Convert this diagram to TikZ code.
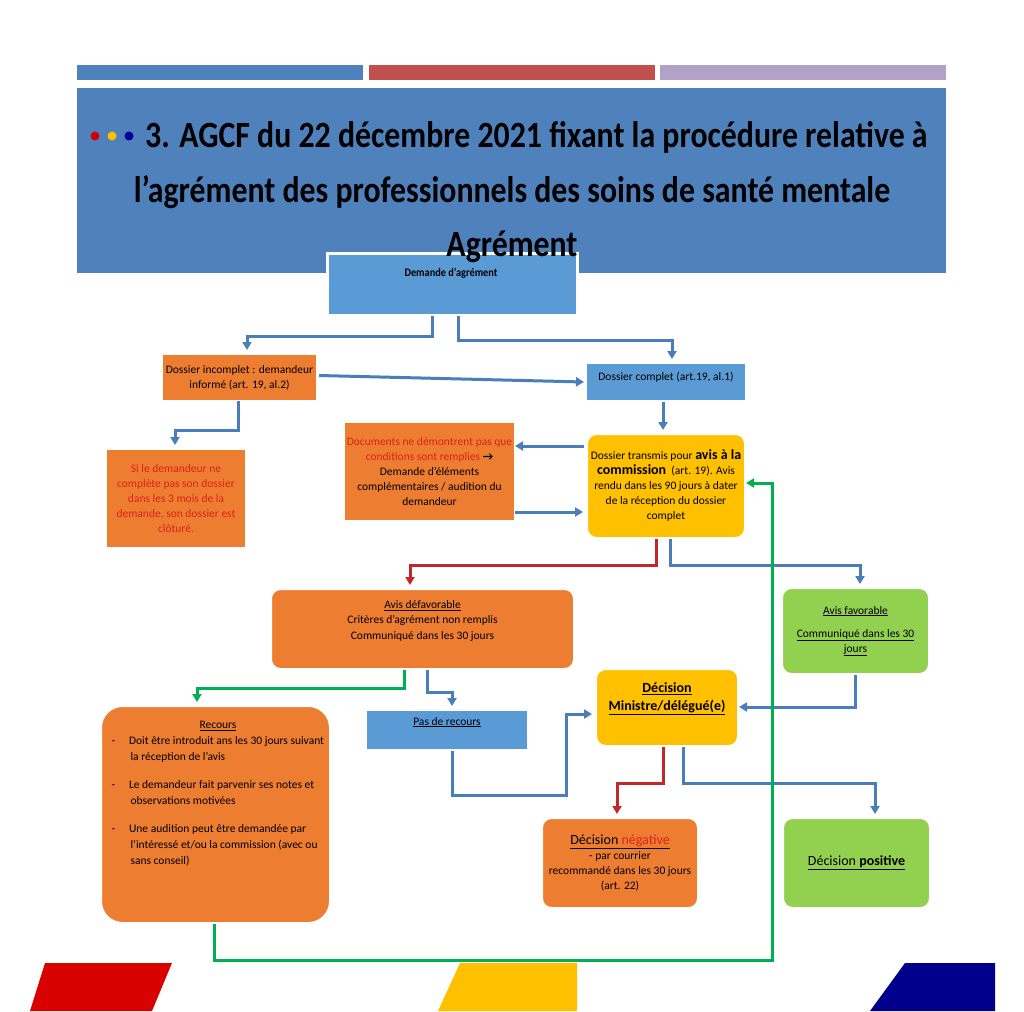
\documentclass[tikz,border=0pt]{standalone}
\usepackage{fontspec}
\setmainfont{Carlito}
\usetikzlibrary{arrows.meta}
\definecolor{hblue}{HTML}{4F81BD}
\definecolor{bblue}{HTML}{5B9BD5}
\definecolor{bor}{HTML}{ED7D31}
\definecolor{byel}{HTML}{FFC000}
\definecolor{bgreen}{HTML}{92D050}
\definecolor{lblue}{HTML}{4A7EBB}
\definecolor{lred}{HTML}{C0282D}
\definecolor{lgreen}{HTML}{00B050}
\definecolor{bred}{HTML}{C0504D}
\definecolor{blav}{HTML}{B3A2C7}
\definecolor{tred}{HTML}{E02020}
\begin{document}
\begin{tikzpicture}[x=1pt,y=-1pt,
 box/.style={draw=white,line width=3pt,inner sep=3pt,align=center,font=\fontsize{11.5}{15}\selectfont},
 rbox/.style={box,rounded corners=10pt},
 ttl/.style={font=\bfseries\fontsize{37}{40}\selectfont,inner sep=0},
 bl/.style={draw=lblue,line width=3pt,-{Triangle[length=8pt,width=9pt]}},
 rl/.style={bl,draw=lred},
 gl/.style={bl,draw=lgreen}]
\useasboundingbox (0,0) rectangle (1024,1011);
\fill[white] (0,0) rectangle (1024,1011);
% top bars
\fill[hblue] (77,65) rectangle (363,80);
\fill[bred] (369,65) rectangle (655,80);
\fill[blav] (660,65) rectangle (946,80);
\fill[hblue] (77,88) rectangle (946,273);
\fill[red!80!black] (95,136) circle (4.5);
\fill[byel] (112,136) circle (4.5);
\fill[blue!60!black] (129,136) circle (4.5);
\node[ttl,anchor=base west] (t1) at (145,148) {\scalebox{0.86}[1]{3. AGCF du 22 décembre 2021 fixant la procédure relative à}};
\node[ttl,anchor=base] (t2) at (512,202) {\scalebox{0.86}[1]{l’agrément des professionnels des soins de santé mentale}};
% bottom shapes
\fill[red!85!black] (45,963) -- (172,963) -- (152,1011) -- (30,1011) -- cycle;
\fill[byel] (460,963) -- (577,963) -- (577,1011) -- (438,1011) -- cycle;
\fill[blue!55!black] (905,963) -- (995,963) -- (995,1011) -- (870,1011) -- cycle;
% boxes
\node[box,fill=bblue,minimum width=250pt,minimum height=62pt,anchor=north west] (dem) at (326,252) {};
\node[ttl,anchor=base] (t3) at (512,256) {\scalebox{0.86}[1]{Agrément}};
\node[font=\bfseries\fontsize{11.5}{14}\selectfont,anchor=base] (demt) at (451,276) {\scalebox{0.9}[1]{Demande d’agrément}};
\node[box,fill=bor,minimum width=156pt,minimum height=48pt,anchor=north west] (inc) at (160,352) {Dossier incomplet : demandeur\\informé (art. 19, al.2)};
\node[box,fill=bblue,minimum width=161pt,minimum height=39pt,anchor=north west,text depth=12pt] (comp) at (584,361) {Dossier complet (art.19, al.1)};
\node[box,fill=bor,minimum width=141pt,minimum height=100pt,anchor=north west,text=tred] (si) at (104,447) {Si le demandeur ne\\complète pas son dossier\\dans les 3 mois de la\\demande, son dossier est\\clôturé.};
\node[box,fill=bor,minimum width=172pt,minimum height=100pt,anchor=north west] (doc) at (342,420) {\textcolor{tred}{Documents ne démontrent pas que}\\\textcolor{tred}{conditions sont remplies} \textbf{→}\\Demande d’éléments\\complémentaires / audition du\\demandeur};
\node[rbox,fill=byel,minimum width=159pt,minimum height=105pt,anchor=north west] (tr) at (585,432) {Dossier transmis pour {\fontsize{14}{14}\selectfont\bfseries avis à la}\\{\fontsize{14}{14}\selectfont\bfseries commission} ~(art. 19). Avis\\rendu dans les 90 jours à dater\\de la réception du dossier\\complet};
\node[rbox,fill=bor,minimum width=304pt,minimum height=81pt,anchor=north west,text depth=18pt] (def) at (269,587) {\underline{Avis défavorable}\\Critères d’agrément non remplis\\Communiqué dans les 30 jours};
\node[rbox,fill=bgreen,minimum width=148pt,minimum height=87pt,anchor=north west] (fav) at (780,586) {\underline{Avis favorable}\\[8pt]\underline{Communiqué dans les 30}\\\underline{jours}};
\node[rbox,fill=byel,minimum width=143pt,minimum height=78pt,anchor=north west,font=\bfseries\fontsize{14}{18}\selectfont,text depth=22pt] (dec) at (594,667) {\underline{Décision}\\\underline{Ministre/délégué(e)}};
\node[box,fill=bblue,minimum width=163pt,minimum height=41pt,anchor=north west,text depth=18pt] (pas) at (364,708) {\underline{Pas de recours}};
\node[rbox,rounded corners=22pt,fill=bor,minimum width=230pt,minimum height=218pt,anchor=north west] (rec) at (99,704) {};
\node[font=\fontsize{11.5}{16}\selectfont,align=left,anchor=north west] (rect) at (108,718) {\hspace*{88pt}\underline{Recours}\\
-\hspace{14pt}Doit être introduit ans les 30 jours suivant\\\hspace*{19pt}la réception de l’avis\\[12pt]
-\hspace{14pt}Le demandeur fait parvenir ses notes et\\\hspace*{19pt}observations motivées\\[12pt]
-\hspace{14pt}Une audition peut être demandée par\\\hspace*{19pt}l’intéressé et/ou la commission (avec ou\\\hspace*{19pt}sans conseil)};
\node[rbox,fill=bor,minimum width=157pt,minimum height=91pt,anchor=north west] (neg) at (540,816) {{\fontsize{14}{16}\selectfont\underline{Décision \textcolor{tred}{négative}}}\\- par courrier\\recommandé dans les 30 jours\\(art. 22)};
\node[rbox,fill=bgreen,minimum width=148pt,minimum height=91pt,anchor=north west,font=\fontsize{14}{16}\selectfont] (pos) at (781,816) {\underline{Décision \textbf{positive}}};
% connectors
\draw[bl] (432,316) -- (432,336) -- (247,336) -- (247,350);
\draw[bl] (458,316) -- (458,340) -- (672,340) -- (672,359);
\draw[bl] (inc.east) ++(0,-2) -- (comp.west);
\draw[bl] (238,401) -- (238,430) -- (175,430) -- (175,445);
\draw[bl] (663,402) -- (663,430);
\draw[bl] (584,446) -- (515,446);
\draw[bl] (515,512) -- (583,512);
\draw[rl] (656,539) -- (656,565) -- (410,565) -- (410,585);
\draw[bl] (670,539) -- (670,565) -- (860,565) -- (860,584);
\draw[bl] (855,675) -- (855,707) -- (739,707);
\draw[gl] (404,670) -- (404,688) -- (197,688) -- (197,702);
\draw[bl] (427,670) -- (427,692) -- (452,692) -- (452,706);
\draw[bl] (452,751) -- (452,795) -- (566,795) -- (566,714) -- (592,714);
\draw[rl] (663,747) -- (663,783) -- (617,783) -- (617,814);
\draw[bl] (683,747) -- (683,783) -- (875,783) -- (875,814);
\draw[gl] (214,924) -- (214,960) -- (772,960) -- (772,483) -- (746,483);
\end{tikzpicture}
\end{document}
